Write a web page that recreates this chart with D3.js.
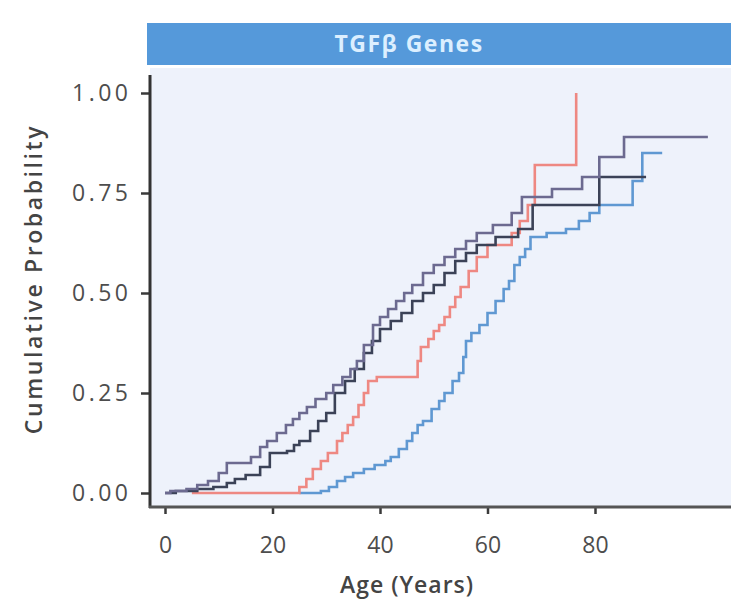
<!DOCTYPE html>
<html>
<head>
<meta charset="utf-8">
<script src="https://cdn.jsdelivr.net/npm/d3@7"></script>
<style>
  body { margin: 0; background: #fff; }
  svg { display: block; font-family: "Open Sans", sans-serif; }
</style>
</head>
<body>
<div id="chart"></div>
<script>
// step points (age in years, cumulative probability)
var purpleAges = [0, 1, 4, 6, 8, 10, 11.5, 16, 17.7, 19, 20.8, 22.5, 23.8, 25, 26.4, 28, 30, 31.3, 33, 34.5, 35.7, 37, 38.7, 40, 41.5, 43, 44.5, 46, 48, 50, 52, 54, 56, 58, 61, 64.5, 66.4, 72, 77.6, 80.8, 85.4, 101];
var purpleProb = [0, 0.005, 0.01, 0.02, 0.03, 0.05, 0.075, 0.09, 0.115, 0.13, 0.15, 0.17, 0.185, 0.2, 0.215, 0.235, 0.25, 0.27, 0.29, 0.31, 0.33, 0.37, 0.42, 0.44, 0.46, 0.48, 0.5, 0.52, 0.55, 0.57, 0.59, 0.61, 0.63, 0.65, 0.67, 0.7, 0.74, 0.76, 0.79, 0.84, 0.89, 0.89];

var darkAges = [0, 2, 6, 9, 11.5, 13, 15, 17.7, 19.5, 22.7, 24, 25, 27, 28.5, 30, 31.6, 33.5, 35.3, 37, 38.5, 40, 42, 44, 46, 48, 50, 52, 54, 56, 58, 61.5, 65.7, 68.4, 80.8, 89.5];
var darkProb = [0, 0.005, 0.01, 0.015, 0.025, 0.035, 0.045, 0.065, 0.1, 0.105, 0.12, 0.13, 0.155, 0.18, 0.2, 0.25, 0.28, 0.31, 0.35, 0.38, 0.41, 0.43, 0.45, 0.48, 0.5, 0.52, 0.55, 0.58, 0.6, 0.62, 0.64, 0.66, 0.72, 0.79, 0.79];

var salmonAges = [5, 25, 26.3, 27.5, 29, 30.3, 32, 33, 34, 35, 36, 37, 37.8, 39.4, 47, 47.6, 49, 50, 51, 52, 53, 54, 55, 56.5, 58, 60, 64.5, 66, 67.5, 68.8, 76.5];
var salmonProb = [0, 0.015, 0.035, 0.06, 0.08, 0.1, 0.13, 0.15, 0.17, 0.19, 0.22, 0.25, 0.28, 0.29, 0.33, 0.365, 0.385, 0.405, 0.42, 0.44, 0.465, 0.49, 0.515, 0.555, 0.59, 0.62, 0.65, 0.68, 0.72, 0.82, 1.0];

var blueAges = [25, 29, 30.5, 32, 33.5, 35, 37, 39, 41, 42, 43.5, 45, 46, 47, 48, 49.6, 51, 52, 53.5, 54.7, 55.5, 56, 57, 58.5, 60, 61.5, 63, 64, 65, 66, 67, 68, 71, 74.6, 77, 79, 80.8, 87, 88.8, 92.5];
var blueProb = [0, 0.005, 0.015, 0.03, 0.04, 0.05, 0.06, 0.07, 0.08, 0.09, 0.11, 0.13, 0.15, 0.17, 0.18, 0.21, 0.23, 0.25, 0.28, 0.3, 0.34, 0.38, 0.4, 0.42, 0.45, 0.48, 0.51, 0.53, 0.57, 0.59, 0.61, 0.64, 0.65, 0.66, 0.68, 0.7, 0.72, 0.78, 0.85, 0.85];

var xTicks = [0, 20, 40, 60, 80];
var yTicks = [0, 0.25, 0.5, 0.75, 1];

var W = 731, H = 601;

var svg = d3.select("#chart").append("svg")
    .attr("width", W)
    .attr("height", H);

var x = d3.scaleLinear().domain([0, 80]).range([165, 595]);
var y = d3.scaleLinear().domain([0, 1]).range([493, 93]);

var panelL = 150, panelT = 68, panelB = 507;

// facet strip
svg.append("rect")
    .attr("x", 147).attr("y", 23)
    .attr("width", W - 147).attr("height", 42)
    .attr("fill", "#5599da");
svg.append("text")
    .attr("x", 409).attr("y", 52)
    .attr("text-anchor", "middle")
    .attr("font-size", "23px")
    .attr("font-weight", "bold")
    .attr("letter-spacing", "1.5px")
    .attr("fill", "#dcefff")
    .text("TGFβ Genes");

// panel background
svg.append("rect")
    .attr("x", panelL).attr("y", panelT)
    .attr("width", W - panelL).attr("height", panelB - panelT)
    .attr("fill", "#eef2fb");

// curves
var series = [
    { ages: blueAges, prob: blueProb, color: "#5f98d2" },
    { ages: salmonAges, prob: salmonProb, color: "#ee8882" },
    { ages: darkAges, prob: darkProb, color: "#3b4257" },
    { ages: purpleAges, prob: purpleProb, color: "#6c6a90" }
];

var line = d3.line()
    .x(d => x(d[0]))
    .y(d => y(d[1]))
    .curve(d3.curveStepAfter);

svg.append("g").selectAll("path")
    .data(series)
    .enter()
    .append("path")
        .attr("d", s => line(s.ages.map((a, i) => [a, s.prob[i]])))
        .attr("fill", "none")
        .attr("stroke", s => s.color)
        .attr("stroke-width", 2.6);

// axes
var yAxis = svg.append("g")
    .attr("transform", "translate(" + panelL + ",0)")
    .call(d3.axisLeft(y).tickValues(yTicks).tickFormat(d3.format(".2f")).tickSize(9).tickPadding(9.5));
var xAxis = svg.append("g")
    .attr("transform", "translate(0," + panelB + ")")
    .call(d3.axisBottom(x).tickValues(xTicks).tickSize(7).tickPadding(23));

[yAxis, xAxis].forEach(function(g) {
    g.select(".domain").remove();
    g.selectAll(".tick line").attr("stroke", "#3a3a3a").attr("stroke-width", 2.5);
    g.selectAll(".tick text")
        .attr("fill", "#4d4d4d")
        .attr("font-size", "23px")
        .attr("font-family", "Open Sans");
});
yAxis.selectAll(".tick text").attr("letter-spacing", "3.5px");

svg.append("line")
    .attr("x1", panelL).attr("x2", panelL)
    .attr("y1", 75).attr("y2", panelB + 1)
    .attr("stroke", "#333").attr("stroke-width", 3);
svg.append("line")
    .attr("x1", panelL - 1).attr("x2", W)
    .attr("y1", panelB).attr("y2", panelB)
    .attr("stroke", "#555").attr("stroke-width", 3);

// axis titles
svg.append("text")
    .attr("x", 407).attr("y", 593)
    .attr("text-anchor", "middle")
    .attr("font-size", "23px")
    .attr("font-weight", 600)
    .attr("letter-spacing", "1px")
    .attr("fill", "#444")
    .text("Age (Years)");

svg.append("text")
    .attr("transform", "translate(42,279) rotate(-90)")
    .attr("text-anchor", "middle")
    .attr("font-size", "23px")
    .attr("font-weight", 600)
    .attr("letter-spacing", "2.6px")
    .attr("fill", "#444")
    .text("Cumulative Probability");
</script>
</body>
</html>
